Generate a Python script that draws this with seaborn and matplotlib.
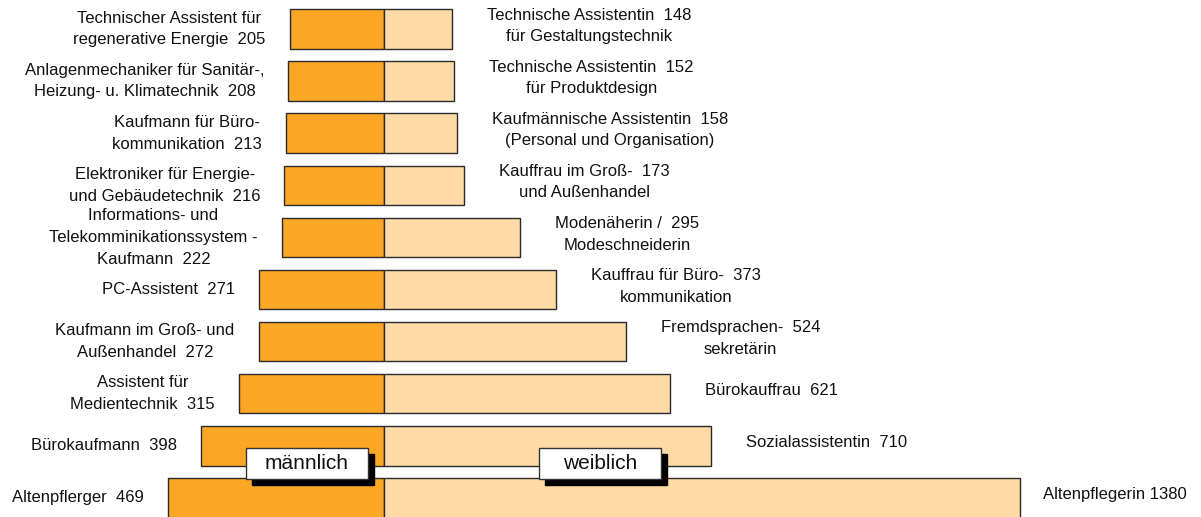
import matplotlib
matplotlib.use("Agg")
import matplotlib.pyplot as plt
import seaborn as sns
import pandas as pd
from matplotlib.patches import Rectangle

# ---- data ----
male_jobs = [
    "Technischer Assistent für\nregenerative Energie",
    "Anlagenmechaniker für Sanitär-,\nHeizung- u. Klimatechnik",
    "Kaufmann für Büro-\nkommunikation",
    "Elektroniker für Energie-\nund Gebäudetechnik",
    "Informations- und\nTelekomminikationssystem -\nKaufmann",
    "PC-Assistent",
    "Kaufmann im Groß- und\nAußenhandel",
    "Assistent für\nMedientechnik",
    "Bürokaufmann",
    "Altenpflerger",
]
male_counts = [205, 208, 213, 216, 222, 271, 272, 315, 398, 469]

female_jobs = [
    "Technische Assistentin\nfür Gestaltungstechnik",
    "Technische Assistentin\nfür Produktdesign",
    "Kaufmännische Assistentin\n(Personal und Organisation)",
    "Kauffrau im Groß-\nund Außenhandel",
    "Modenäherin /\nModeschneiderin",
    "Kauffrau für Büro-\nkommunikation",
    "Fremdsprachen-\nsekretärin",
    "Bürokauffrau",
    "Sozialassistentin",
    "Altenpflegerin",
]
female_counts = [148, 152, 158, 173, 295, 373, 524, 621, 710, 1380]

legend_labels = ["männlich", "weiblich"]

MALE_COLOR = "#FCA626"
FEMALE_COLOR = "#FEDBA6"
EDGE = "#2a2a2a"

sns.set_theme(style="white")
plt.rcParams["font.family"] = ["Liberation Sans", "DejaVu Sans"]

fig = plt.figure(figsize=(12.01, 5.17), dpi=100)
ax = fig.add_axes([0, 0, 1, 1])

rows = [f"r{i}" for i in range(len(male_counts))]
df = pd.DataFrame({
    "row": rows,
    "male": [-v for v in male_counts],
    "female": female_counts,
})

sns.barplot(data=df, y="row", x="male", orient="h", color=MALE_COLOR,
            saturation=1, width=0.76, edgecolor=EDGE, linewidth=1,
            errorbar=None, ax=ax)
sns.barplot(data=df, y="row", x="female", orient="h", color=FEMALE_COLOR,
            saturation=1, width=0.76, edgecolor=EDGE, linewidth=1,
            errorbar=None, ax=ax)

ax.set_xlim(-833, 1772)
ax.set_ylim(9.367, -0.557)
ax.axis("off")

FS = 12
LS = 1.55

# left labels
for i, (name, cnt) in enumerate(zip(male_jobs, male_counts)):
    lines = name.split("\n")
    lines[-1] = lines[-1] + "  " + str(cnt)
    ax.text(-cnt - 52, i, "\n".join(lines), ha="right", va="center",
            multialignment="center", fontsize=FS, linespacing=LS,
            color="#111111")

# right labels
n = len(female_counts)
for i, (name, cnt) in enumerate(zip(female_jobs, female_counts)):
    lines = name.split("\n")
    sep = " " if i == n - 1 else "  "
    lines[0] = lines[0] + sep + str(cnt)
    ax.text(cnt + (50 if i == n - 1 else 76), i - 0.06, "\n".join(lines),
            ha="left", va="center", multialignment="center", fontsize=FS,
            linespacing=LS, color="#111111")

# legend boxes with shadow
box_w, box_h = 122 / 1201, 31 / 517
y0 = 1 - 479 / 517
dx, dy = 6 / 1201, -6 / 517
for label, x0 in zip(legend_labels, [246 / 1201, 539 / 1201]):
    ax.add_patch(Rectangle((x0 + dx, y0 + dy), box_w, box_h,
                           transform=ax.transAxes, facecolor="black",
                           edgecolor="black", zorder=5, clip_on=False))
    ax.add_patch(Rectangle((x0, y0), box_w, box_h,
                           transform=ax.transAxes, facecolor="white",
                           edgecolor="#333333", linewidth=1, zorder=6,
                           clip_on=False))
    ax.text(x0 + box_w / 2, y0 + box_h / 2, label, transform=ax.transAxes,
            ha="center", va="center", fontsize=15, zorder=7, color="#111111")

fig.savefig("out.png", dpi=100)
